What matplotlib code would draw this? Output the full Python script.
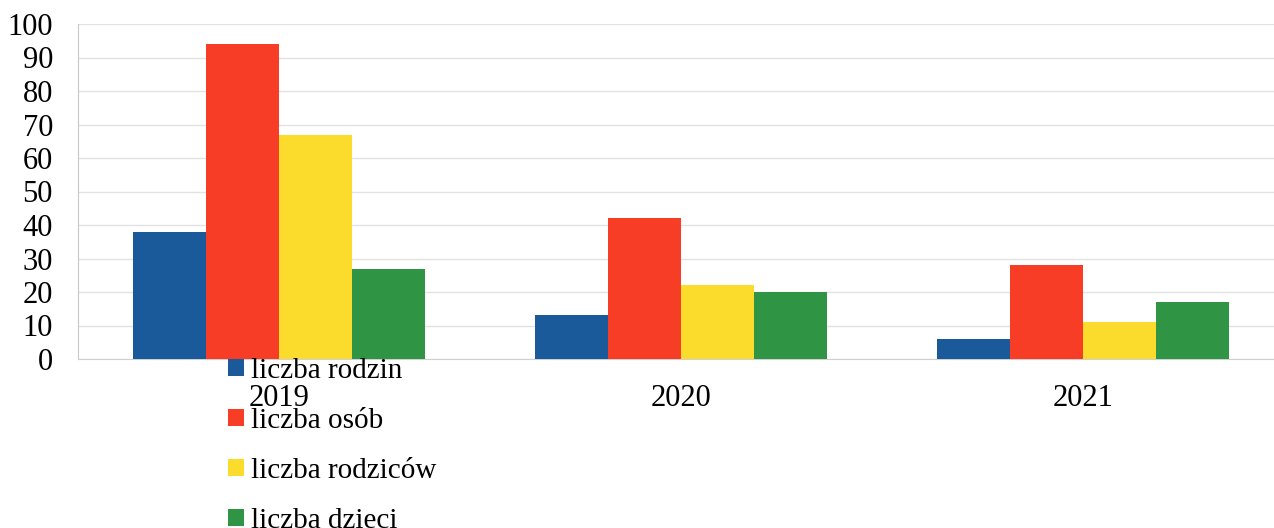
import matplotlib.pyplot as plt
import numpy as np

years = ["2019", "2020", "2021"]
series = ["liczba rodzin", "liczba osób", "liczba rodziców", "liczba dzieci"]
rodzin = [38, 13, 6]
osob = [94, 42, 28]
rodzicow = [67, 22, 11]
dzieci = [27, 20, 17]
colors = ["#1a5a9a", "#f83d26", "#fbdc2c", "#2f9545"]

plt.rcParams["font.family"] = ["Liberation Serif", "DejaVu Serif"]

fig = plt.figure(figsize=(12.74, 5.28), dpi=100)
ax = fig.add_axes([78/1274, 169/528, 1206/1274, 335/528])

x = np.arange(len(years))
w = 0.1816
for k, (vals, lab) in enumerate(zip([rodzin, osob, rodzicow, dzieci], series)):
    ax.bar(x + (k - 1.5)*w, vals, width=w, color=colors[k], label=lab, zorder=3)

ax.set_xlim(-0.5, 2.5)
ax.set_ylim(0, 100)
ax.set_yticks(range(0, 101, 10))
ax.set_xticks(x)
ax.set_xticklabels(years)
ax.tick_params(axis="both", length=0, labelsize=22)
ax.tick_params(axis="y", pad=18)
ax.tick_params(axis="x", pad=18)
ax.grid(axis="y", color="#e2e2e2", linewidth=1, zorder=0)
for s in ["top", "right"]:
    ax.spines[s].set_visible(False)
ax.spines["left"].set_color("#c8c8c8")
ax.spines["bottom"].set_color("#d0d0d0")

ax.legend(loc="upper left", bbox_to_anchor=(228/1274, 1 - 358/528),
          bbox_transform=fig.transFigure, frameon=False, fontsize=21,
          handlelength=0.55, handleheight=0.55, handletextpad=0.25,
          labelspacing=0.82, borderaxespad=0, borderpad=0)

fig.savefig("out.png", dpi=100, facecolor="w")
